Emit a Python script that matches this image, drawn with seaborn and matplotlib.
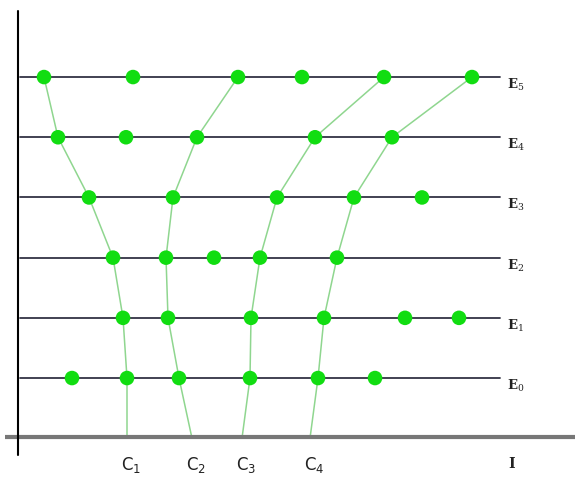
import numpy as np
import pandas as pd
import matplotlib
matplotlib.use("Agg")
import matplotlib.pyplot as plt
import seaborn as sns

sns.set_theme(style="white")
plt.rcParams['font.family'] = ['DejaVu Serif']
plt.rcParams['mathtext.fontset'] = 'dejavuserif'

# ---------- data ----------
levels = [0, 1, 2, 3, 4, 5]
level_labels = [r"$\mathbf{E}_{0}$", r"$\mathbf{E}_{1}$", r"$\mathbf{E}_{2}$",
                r"$\mathbf{E}_{3}$", r"$\mathbf{E}_{4}$", r"$\mathbf{E}_{5}$"]

# x position of points on each level (E0 .. E5)
pts_E0 = [72, 127, 179, 250, 318, 375]
pts_E1 = [123, 168, 251, 324, 405, 459]
pts_E2 = [113, 166, 214, 260, 337]
pts_E3 = [89, 173, 277, 354, 422]
pts_E4 = [58, 126, 197, 315, 392]
pts_E5 = [44, 133, 238, 302, 384, 472]

# curves C1..C4: x at axis (level -1) and at E0..E5
curve_levels = [-1, 0, 1, 2, 3, 4, 5]
C1 = [127, 127, 123, 113, 89, 58, 44]
C2 = [192, 179, 168, 166, 173, 197, 238]
C3 = [242, 250, 251, 260, 277, 315, 384]
C4 = [310, 318, 324, 337, 354, 392, 472]
curve_names = ["C1", "C2", "C3", "C4"]
curve_labels = [r"C$_{1}$", r"C$_{2}$", r"C$_{3}$", r"C$_{4}$"]

rows = []
for lv, xs in zip(levels, [pts_E0, pts_E1, pts_E2, pts_E3, pts_E4, pts_E5]):
    for x in xs:
        rows.append({"x": x, "level": lv})
points = pd.DataFrame(rows)

crows = []
for name, xs in zip(curve_names, [C1, C2, C3, C4]):
    for lv, x in zip(curve_levels, xs):
        crows.append({"x": x, "level": lv, "curve": name})
curves = pd.DataFrame(crows)

# ---------- plot ----------
fig = plt.figure(figsize=(5.75, 4.87), dpi=100)
ax = fig.add_axes([0, 0, 1, 1])
ax.set_xlim(0, 575)
ax.set_ylim(-1.81, 6.28)
ax.axis("off")

# horizontal energy lines
for lv in levels:
    ax.plot([20, 500], [lv, lv], color="#333344", linewidth=1.3, zorder=1)

# curves
sns.lineplot(data=curves, x="x", y="level", units="curve", estimator=None,
             sort=False, color="#8fd68f", linewidth=1.1, ax=ax, zorder=2)

# points
sns.scatterplot(data=points, x="x", y="level", color="#11dd11", s=110,
                edgecolor="none", ax=ax, zorder=3)

# axes
ax.plot([5, 575], [-0.98, -0.98], color="#777777", linewidth=3, zorder=4,
        solid_capstyle="butt")
ax.plot([18, 18], [6.1, -1.28], color="black", linewidth=1.5, zorder=4)

# labels
for lv, lab in zip(levels, level_labels):
    ax.text(507, lv - 0.13, lab, fontsize=9.5, va="center", ha="left",
            color="#222222")
for name, lab in zip(curve_names, curve_labels):
    x0 = curves.loc[(curves.curve == name) & (curves.level == -1), "x"].iloc[0]
    ax.text(x0 + 4, -1.45, lab, fontsize=12, va="center", ha="center",
            family="DejaVu Sans", math_fontfamily="dejavusans", color="#222222")
ax.text(512, -1.42, "I", fontsize=10, va="center", ha="center",
        fontweight="bold", color="#222222")

fig.savefig("out.png", dpi=100)
